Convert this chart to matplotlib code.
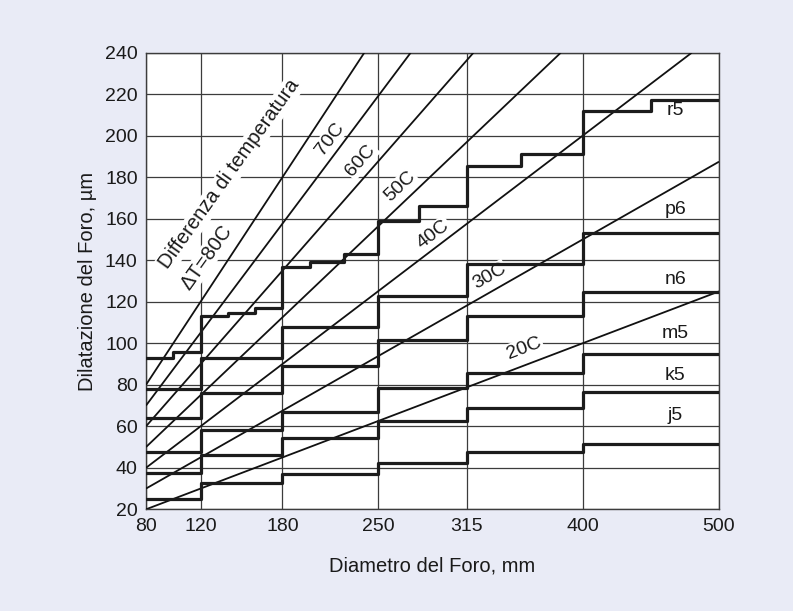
import numpy as np
import matplotlib
matplotlib.use("Agg")
import matplotlib.pyplot as plt

plt.rcParams['font.family'] = ['Liberation Sans', 'DejaVu Sans']

# diametri (limiti dei campi) e dilatazioni, in um
edges = [80, 120, 180, 250, 315, 400, 500]
edges_r5 = [80, 100, 120, 140, 160, 180, 200, 225, 250, 280, 315, 355, 400, 450, 500]
r5 = [93, 96, 113, 114.5, 117, 137, 139, 143, 159, 166, 185.5, 191, 212, 217]
p6 = [78, 93, 108, 123, 138, 153]
n6 = [64, 76, 89, 101.5, 113, 124.5]
m5 = [47.5, 58, 67, 78.5, 85.5, 95]
k5 = [37.5, 46, 54.5, 62.5, 69, 76.5]
j5 = [25, 32.5, 37, 42.5, 47.5, 51.5]
classes = ["r5", "p6", "n6", "m5", "k5", "j5"]

# rette della differenza di temperatura: inizio a D=80 e punto finale
dt_names = ["20C", "30C", "40C", "50C", "60C", "70C", "80C"]
dt_start = [20, 30, 40, 50, 60, 70, 80]
dt_end_x = [500, 500, 480, 384, 320, 274, 240]
dt_end_y = [125, 187.5, 240, 240, 240, 240, 240]

x_ticks = [80, 120, 180, 250, 315, 400, 500]
y_ticks = list(range(20, 241, 20))

txt_col = "#1a1a1a"

fig = plt.figure(figsize=(7.93, 6.11), dpi=100, facecolor="#e9ebf6")
ax = fig.add_axes([0.1841, 0.1664, 0.7226, 0.7473])
ax.set_facecolor("white")
ax.set_axisbelow(True)

# rette a temperatura costante
for name, y0, xe, ye in zip(dt_names, dt_start, dt_end_x, dt_end_y):
    ax.plot([80, xe], [y0, ye], color="#111111", lw=1.3, zorder=4, solid_capstyle="butt")

# gradini delle classi di tolleranza
ax.step(edges_r5, r5 + [r5[-1]], where="post", color="#1c1c1c", lw=2.3, zorder=4)
for vals in [p6, n6, m5, k5, j5]:
    ax.step(edges, vals + [vals[-1]], where="post", color="#1c1c1c", lw=2.3, zorder=4)

# etichette delle classi
cls_x = 468
cls_y = [212.4, 164.7, 130.6, 104.5, 84.3, 65.4]
for name, yy in zip(classes, cls_y):
    ax.text(cls_x, yy, name, ha="center", va="center", fontsize=14, color=txt_col, zorder=5)

# etichette delle rette (parallele alle rette)
lab_pos = {"70C": (214.9, 198.4), "60C": (237.4, 188.2), "50C": (266.2, 175.4),
           "40C": (290.6, 152.6), "30C": (331.6, 132.1), "20C": (357.2, 97.6)}
box = dict(facecolor="white", edgecolor="none", pad=1.0)
for name, y0, xe, ye in zip(dt_names, dt_start, dt_end_x, dt_end_y):
    ang = np.degrees(np.arctan((ye - y0) / (xe - 80)))
    if name in lab_pos:
        px, py = lab_pos[name]
        ax.text(px, py, name, rotation=ang, transform_rotates_text=True,
                rotation_mode="anchor", ha="center", va="center",
                fontsize=14, color=txt_col, bbox=box, zorder=3)
    else:
        # titolo su due righe lungo la retta 80C
        ax.text(96.3, 135.3, "Differenza di temperatura", rotation=54.5,
                rotation_mode="anchor", ha="left", va="baseline",
                fontsize=14.5, color=txt_col, bbox=box, zorder=3)
        ax.text(111.5, 125.0, "\u0394T=80C", rotation=54.5,
                rotation_mode="anchor", ha="left", va="baseline",
                fontsize=14.5, color=txt_col, bbox=box, zorder=3)

ax.set_xlim(80, 500)
ax.set_ylim(20, 240)
ax.set_xticks(x_ticks)
ax.set_yticks(y_ticks)
ax.grid(True, color="#3c3c3c", lw=0.9)
ax.tick_params(length=0, labelsize=14, colors=txt_col, pad=6)
for s in ax.spines.values():
    s.set_color("#3c3c3c")
    s.set_linewidth(1.0)

ax.set_xlabel("Diametro del Foro, mm", fontsize=14.5, color=txt_col)
ax.set_ylabel("Dilatazione del Foro, \u00b5m", fontsize=14.5, color=txt_col)
ax.xaxis.set_label_coords(0.5, -0.103)
ax.yaxis.set_label_coords(-0.085, 0.5)

fig.savefig("out.png", dpi=100, facecolor=fig.get_facecolor())
